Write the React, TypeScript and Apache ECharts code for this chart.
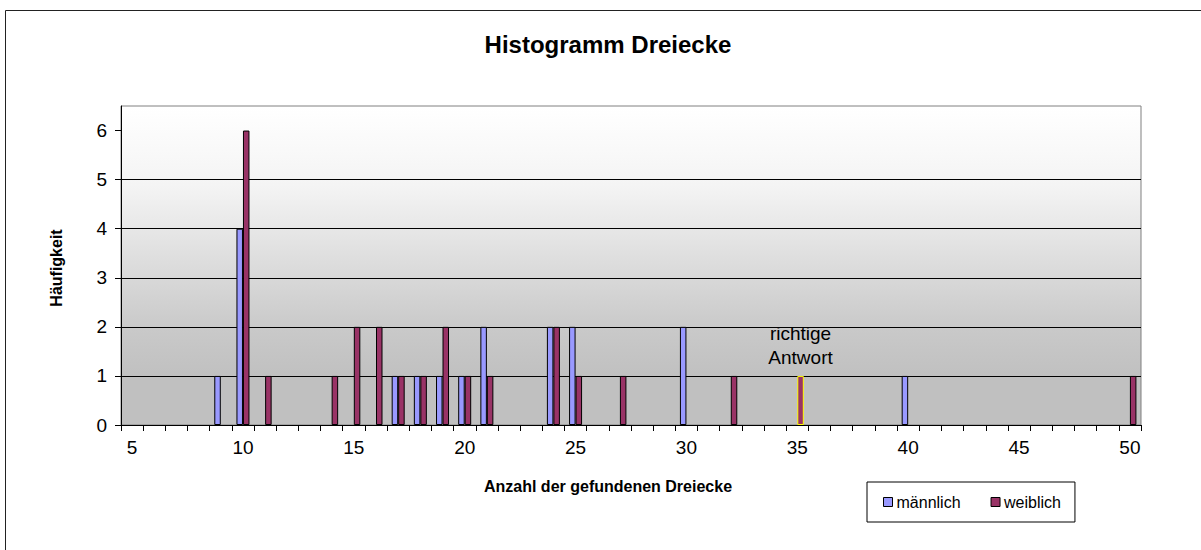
import React, { useEffect, useRef } from "react";
import * as echarts from "echarts";

const categories = [
  "5", "6", "7", "8", "9", "10", "11", "12", "13", "14",
  "15", "16", "17", "18", "19", "20", "21", "22", "23", "24",
  "25", "26", "27", "28", "29", "30", "31", "32", "33", "34",
  "35", "36", "37", "38", "39", "40", "41", "42", "43", "44",
  "45", "46", "47", "48", "49", "50",
];

// Häufigkeit per category (5..50)
const maennlich = [
  0, 0, 0, 0, 1, 4, 0, 0, 0, 0,
  0, 0, 1, 1, 1, 1, 2, 0, 0, 2,
  2, 0, 0, 0, 0, 2, 0, 0, 0, 0,
  0, 0, 0, 0, 0, 1, 0, 0, 0, 0,
  0, 0, 0, 0, 0, 0,
];
const weiblich = [
  0, 0, 0, 0, 0, 6, 1, 0, 0, 1,
  2, 2, 1, 1, 2, 1, 1, 0, 0, 2,
  1, 0, 1, 0, 0, 0, 0, 1, 0, 0,
  1, 0, 0, 0, 0, 0, 0, 0, 0, 0,
  0, 0, 0, 0, 0, 1,
];
const yTicks = [0, 1, 2, 3, 4, 5, 6];
const correctAnswer = "35";

const FONT = "'Liberation Sans', Arial, sans-serif";

export default function App() {
  const ref = useRef<HTMLDivElement>(null);

  useEffect(() => {
    if (!ref.current) return;
    const chart = echarts.init(ref.current, undefined, { renderer: "svg" });

    const toData = (arr: number[], highlight: boolean) =>
      arr.map((v, i) => {
        if (v === 0) return "-";
        if (highlight && categories[i] === correctAnswer) {
          return {
            value: v,
            itemStyle: { borderColor: "#FFFF00" },
            label: {
              show: true,
              position: "top",
              distance: 6,
              formatter: "richtige\nAntwort",
              fontSize: 19,
              lineHeight: 24,
              color: "#000",
              fontFamily: FONT,
            },
          };
        }
        return v;
      });

    chart.setOption({
      animation: false,
      backgroundColor: "#FFFFFF",
      textStyle: { fontFamily: FONT },
      graphic: [
        {
          type: "rect",
          shape: { x: 5.5, y: 10.5, width: 1220, height: 560 },
          style: { fill: "none", stroke: "#222", lineWidth: 1 },
          silent: true,
          z: -1,
        },
        {
          type: "text",
          x: 608,
          y: 44,
          style: {
            text: "Histogramm Dreiecke",
            font: `bold 24px ${FONT}`,
            fill: "#000",
            align: "center",
            verticalAlign: "middle",
          },
        },
        {
          type: "text",
          x: 56,
          y: 268,
          rotation: Math.PI / 2,
          style: {
            text: "Häufigkeit",
            font: `bold 16px ${FONT}`,
            fill: "#000",
            align: "center",
            verticalAlign: "middle",
          },
        },
        {
          type: "text",
          x: 608,
          y: 486,
          style: {
            text: "Anzahl der gefundenen Dreiecke",
            font: `bold 16px ${FONT}`,
            fill: "#000",
            align: "center",
            verticalAlign: "middle",
          },
        },
      ],
      grid: {
        left: 121,
        top: 106,
        width: 1020,
        height: 319,
        show: true,
        borderColor: "#808080",
        borderWidth: 1,
        backgroundColor: {
          type: "linear",
          x: 0,
          y: 0,
          x2: 0,
          y2: 1,
          colorStops: [
            { offset: 0, color: "#FFFFFF" },
            { offset: 0.25, color: "#F4F4F4" },
            { offset: 0.7, color: "#C9C9C9" },
            { offset: 0.85, color: "#C0C0C0" },
            { offset: 1, color: "#C0C0C0" },
          ],
        },
      },
      legend: {
        left: 867,
        top: 482,
        orient: "horizontal",
        backgroundColor: "#FFFFFF",
        borderColor: "#000",
        borderWidth: 1,
        padding: [12, 14, 12, 16],
        itemGap: 30,
        itemWidth: 9,
        itemHeight: 9,
        icon: "rect",
        itemStyle: { borderColor: "#000", borderWidth: 1 },
        textStyle: { fontSize: 16, color: "#000", fontFamily: FONT, padding: [0, 0, 0, -1] },
        data: ["männlich", "weiblich"],
      },
      xAxis: {
        type: "category",
        data: categories,
        boundaryGap: true,
        axisLine: { lineStyle: { color: "#000", width: 1 } },
        axisTick: { show: true, interval: 0, length: 6, lineStyle: { color: "#000" } },
        axisLabel: {
          interval: 4,
          fontSize: 19,
          color: "#000",
          margin: 13,
          fontFamily: FONT,
        },
        splitLine: { show: false },
      },
      yAxis: {
        type: "value",
        min: 0,
        max: 6.5,
        interval: 1,
        axisLine: { show: true, lineStyle: { color: "#000", width: 1 } },
        axisTick: {
          show: true,
          length: 6,
          lineStyle: { color: "#000" },
          customValues: yTicks,
        },
        axisLabel: {
          fontSize: 19,
          color: "#000",
          margin: 14,
          fontFamily: FONT,
          customValues: yTicks,
        },
        splitLine: {
          show: true,
          showMinLine: false,
          showMaxLine: false,
          lineStyle: { color: "#000", width: 1 },
        },
      },
      series: [
        {
          name: "männlich",
          type: "bar",
          data: toData(maennlich, false),
          barWidth: 6.5,
          barGap: "0%",
          itemStyle: { color: "#9999FF", borderColor: "#000", borderWidth: 1 },
        },
        {
          name: "weiblich",
          type: "bar",
          data: toData(weiblich, true),
          barWidth: 6.5,
          barGap: "0%",
          itemStyle: { color: "#993366", borderColor: "#000", borderWidth: 1 },
        },
      ],
    });

    return () => chart.dispose();
  }, []);

  return (
    <div
      ref={ref}
      style={{ position: "absolute", left: 0, top: 0, width: 1201, height: 550 }}
    />
  );
}
